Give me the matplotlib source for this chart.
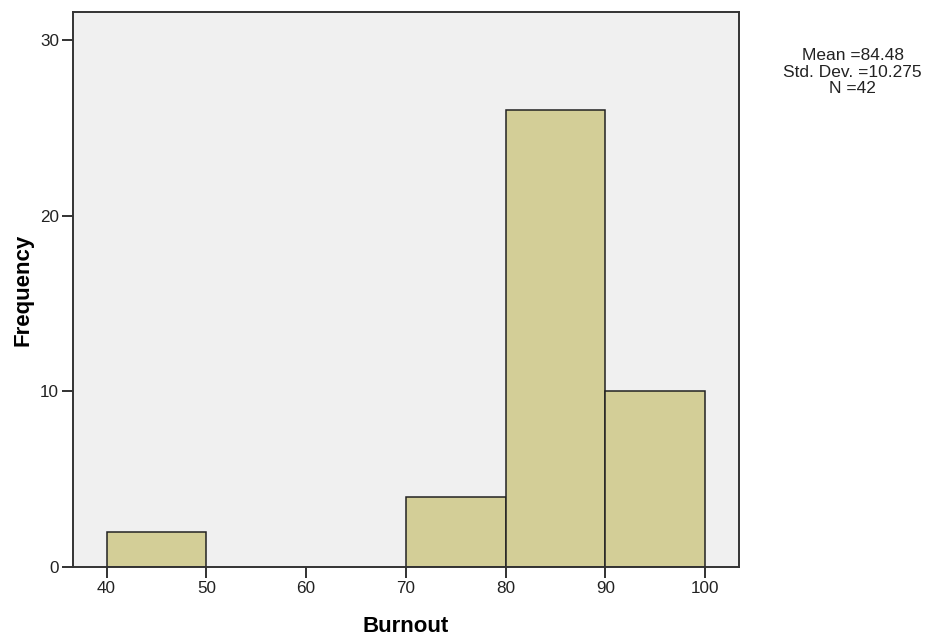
import numpy as np
import matplotlib.pyplot as plt

plt.rcParams['font.family'] = ['Liberation Sans', 'DejaVu Sans']

bin_edges = np.array([40, 50, 60, 70, 80, 90, 100])
counts = np.array([2, 0, 0, 4, 26, 10])
stats_text = "Mean =84.48\nStd. Dev. =10.275\nN =42"

fig = plt.figure(figsize=(9.32, 6.41), dpi=100)
ax = fig.add_axes([0.0783, 0.1154, 0.7146, 0.8659])
ax.set_facecolor('#F0F0F0')

mask = counts > 0
ax.bar(bin_edges[:-1][mask], counts[mask], width=np.diff(bin_edges)[mask], align='edge',
       color='#D3CE97', edgecolor='#222222', linewidth=1.1)

ax.set_xlim(36.63, 103.4)
ax.set_ylim(0, 31.6)
ax.set_xticks([40, 50, 60, 70, 80, 90, 100])
ax.set_yticks([0, 10, 20, 30])
ax.tick_params(direction='out', length=8, width=1.3, labelsize=12.3, colors='#222222', pad=2)
for s in ax.spines.values():
    s.set_color('#333333')
    s.set_linewidth(1.4)

ax.set_xlabel("Burnout", fontsize=16, fontweight='bold')
ax.set_ylabel("Frequency", fontsize=16, fontweight='bold')
ax.xaxis.set_label_coords(0.5, -0.089)
ax.yaxis.set_label_coords(-0.0586, 0.5)

fig.text(0.915, 0.925, stats_text, ha='center', va='top', fontsize=12.5,
         linespacing=1.14, color='#222222')

plt.savefig("out.png", dpi=100)
